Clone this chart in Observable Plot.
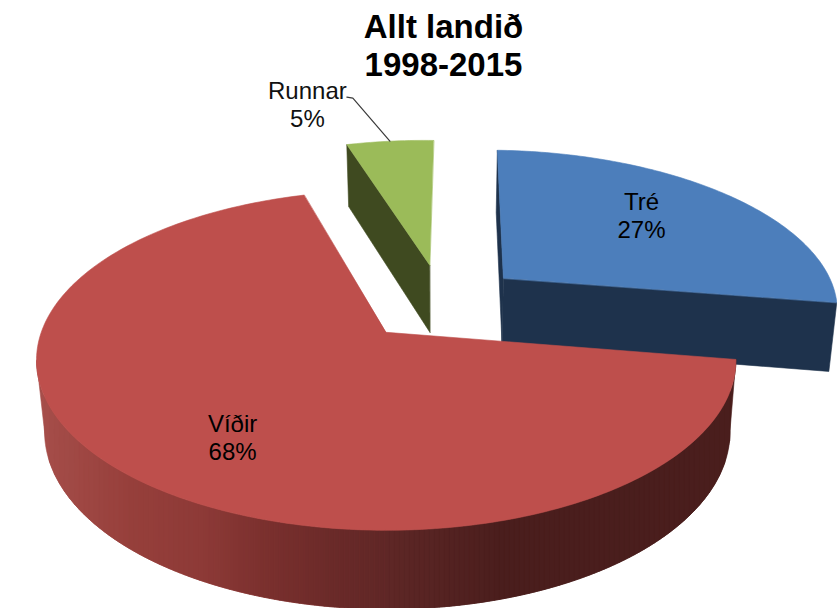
<!DOCTYPE html>
<html lang="is">
<head>
<meta charset="utf-8">
<script src="https://cdn.jsdelivr.net/npm/d3@7"></script>
<script src="https://cdn.jsdelivr.net/npm/@observablehq/plot@0.6"></script>
<style>
  html, body { margin: 0; padding: 0; background: #fff; }
  svg { display: block; }
</style>
</head>
<body>
<div id="chart"></div>
<script>
// Shares of the whole country, 1998-2015
const categories = ["Tré", "Víðir", "Runnar"];
const shares = [27, 68, 5];
const titleLines = ["Allt landið", "1998-2015"];

// Slice colours
const topColors = ["#4c7ebb", "#be4f4c", "#9bbb59"];
const sideColors = ["#1e324c", "#4a1e1d", "#3f4a20"];
// Shading across the outer wall of the large slice, left to right
const wallStops = [36, 130, 200, 260, 330, 400, 500, 740];
const wallRamp = ["#a64e4a", "#963f3b", "#8d3a37", "#7b302e", "#6a2a29", "#5c2625", "#4a1e1d", "#4a1e1d"];

// Pie geometry: a tilted disc seen in perspective
const width = 837, height = 608;
const view = {x0: 385, y0: 332, a: 345, b: 165.4, k: 0.1647};
const hub = {x: 0.168, y: -0.188};
const explode = 0.25;
const rotation = 2;
// The underside plane sits a little further from the eye
const under = {xPivot: 440, xScale: 0.98, yScale: 1.044, yShift: 55.6};
const labelRadius = [0.66, 0.7, 1];
const labelTurn = [-4.1, -6.4, 0];

const rad = d => d * Math.PI / 180;
const total = d3.sum(shares);
let running = rotation;
const slices = categories.map((name, i) => {
  const a0 = running;
  running += shares[i] / total * 360;
  const a1 = running;
  const mid = (a0 + a1) / 2;
  return {name, i, a0, a1, mid, value: shares[i]};
});

// Screen position of a point in a slice, by angle and radius
function topPoint(s, angle, r) {
  const X = hub.x + explode * Math.sin(rad(s.mid)) + r * Math.sin(rad(angle));
  const Y = hub.y - explode * Math.cos(rad(s.mid)) - r * Math.cos(rad(angle));
  const w = 1 - view.k * Y;
  return [view.x0 + view.a * X / w, view.y0 + view.b * Y / w];
}
function bottomPoint(s, angle, r) {
  const [x, y] = topPoint(s, angle, r);
  return [under.xPivot + under.xScale * (x - under.xPivot), under.yScale * y + under.yShift];
}

function arc(project, s, from, to, perDegree = 1) {
  const n = Math.max(2, Math.ceil(Math.abs(to - from) * perDegree));
  return d3.range(n + 1).map(j => project(s, from + (to - from) * j / n, 1));
}

// Polygons in painter's order
const shapes = [];
function addShape(coords, color) {
  const id = shapes.length ? shapes[shapes.length - 1].id + 1 : 0;
  coords.forEach(([x, y]) => shapes.push({id, x, y, color}));
}
function radialFace(s, angle) {
  addShape([topPoint(s, angle, 0), topPoint(s, angle, 1), bottomPoint(s, angle, 1), bottomPoint(s, angle, 0)], sideColors[s.i]);
}
const [tre, vidir, runnar] = slices;

// Far slices first: their cut faces, then their tops
radialFace(tre, tre.a0);
radialFace(tre, tre.a1);
addShape([topPoint(tre, tre.a0, 0), ...arc(topPoint, tre, tre.a0, tre.a1)], topColors[tre.i]);

radialFace(runnar, runnar.a0);
addShape([topPoint(runnar, runnar.a0, 0), ...arc(topPoint, runnar, runnar.a0, runnar.a1)], topColors[runnar.i]);

// Outer wall of the large slice: a plain silhouette for its two ends, then upright bands of shading
const wallColor = d3.scaleLinear().domain(wallStops).range(wallRamp).clamp(true);
const frontAngle = 180;
const leftAngle = d3.least(d3.range(230, 300, 0.25), a => topPoint(vidir, a, 1)[0]);
addShape([...arc(topPoint, vidir, vidir.a0, frontAngle), ...arc(bottomPoint, vidir, frontAngle, vidir.a0)], wallRamp[wallRamp.length - 1]);
addShape([...arc(topPoint, vidir, frontAngle, leftAngle), ...arc(bottomPoint, vidir, leftAngle, frontAngle)], wallRamp[0]);

const byX = pts => {
  const cut = d3.minIndex(pts, p => p[0]);
  return pts.slice(0, cut + 1).reverse();
};
const topEdge = byX(arc(topPoint, vidir, vidir.a0, leftAngle, 4));
const bottomEdge = byX(arc(bottomPoint, vidir, vidir.a0, leftAngle, 4));
const edgeY = (edge, x) => {
  const i = Math.max(1, Math.min(edge.length - 1, d3.bisector(p => p[0]).left(edge, x)));
  const [x0, y0] = edge[i - 1], [x1, y1] = edge[i];
  return y0 + (y1 - y0) * (x - x0) / (x1 - x0 || 1);
};
const bandStart = Math.max(topEdge[0][0], bottomEdge[0][0]);
const bandEnd = Math.min(topEdge[topEdge.length - 1][0], bottomEdge[bottomEdge.length - 1][0]);
const bandWidth = 5;
for (let x = bandStart; x < bandEnd; x += bandWidth) {
  const x2 = Math.min(x + bandWidth, bandEnd);
  addShape([[x, edgeY(topEdge, x)], [x2, edgeY(topEdge, x2)], [x2, edgeY(bottomEdge, x2)], [x, edgeY(bottomEdge, x)]], d3.color(wallColor(x)).formatHex());
}
addShape([topPoint(vidir, vidir.a0, 0), ...arc(topPoint, vidir, vidir.a0, vidir.a1)], topColors[vidir.i]);

// Labels centred inside the two big slices
const inner = [tre, vidir].map(s => {
  const [x, y] = topPoint(s, s.mid + labelTurn[s.i], labelRadius[s.i]);
  return {x, y, text: `${s.name}\n${s.value}%`};
});

// Leader from the rim of the small slice out to its label
const rim = topPoint(runnar, runnar.mid, 1);
const leader = [rim, [rim[0] - 37, rim[1] - 43], [rim[0] - 43, rim[1] - 44]].map(([x, y]) => ({x, y}));
const outer = [{x: rim[0] - 82.5, y: rim[1] - 37, text: `${runnar.name}\n${runnar.value}%`}];

const titleMark = [{x: 443, y: 44, text: titleLines.join("\n")}];

const font = "'Liberation Sans', Arial, sans-serif";
const chart = Plot.plot({
  width, height,
  margin: 0,
  style: {background: "#fff", fontFamily: font},
  x: {domain: [0, width], range: [0, width], axis: null},
  y: {domain: [0, height], range: [0, height], axis: null},
  color: {type: "identity"},
  marks: [
    Plot.line(shapes, {x: "x", y: "y", z: "id", fill: "color", stroke: "color", strokeWidth: 0.6, curve: "linear-closed"}),
    Plot.line(leader, {x: "x", y: "y", stroke: "#3a3a3a", strokeWidth: 1.2}),
    Plot.text(inner, {x: "x", y: "y", text: "text", fontSize: 24, fill: "#000", lineHeight: 1.17}),
    Plot.text(outer, {x: "x", y: "y", text: "text", fontSize: 24, fill: "#111", lineHeight: 1.17}),
    Plot.text(titleMark, {x: "x", y: "y", text: "text", fontSize: 33, fontWeight: 700, fill: "#000", lineHeight: 1.15})
  ]
});
document.getElementById("chart").append(chart);
</script>
</body>
</html>
